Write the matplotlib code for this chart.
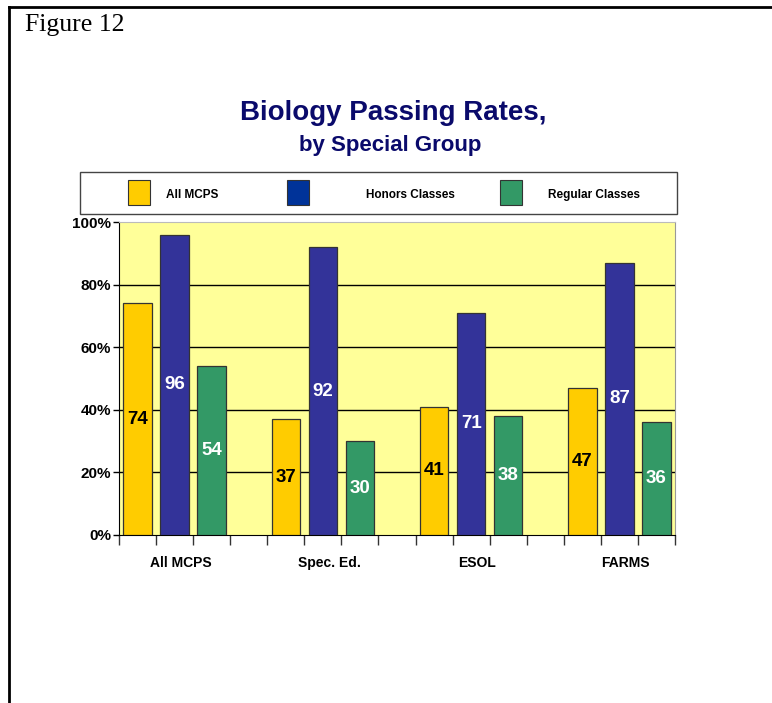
import matplotlib.pyplot as plt
import numpy as np
from matplotlib.patches import Rectangle
from matplotlib.lines import Line2D

# data
groups = ['All MCPS', 'Spec. Ed.', 'ESOL', 'FARMS']
series = ['All MCPS', 'Honors Classes', 'Regular Classes']
all_mcps = [74, 37, 41, 47]
honors = [96, 92, 71, 87]
regular = [54, 30, 38, 36]
yticks = [0, 20, 40, 60, 80, 100]

colors = ['#FFCC00', '#333399', '#339966']
key_colors = ['#FFCC00', '#003399', '#339966']
text_colors = ['black', 'white', 'white']
values = [all_mcps, honors, regular]

plt.rcParams['font.family'] = ['Liberation Sans', 'DejaVu Sans']

fig = plt.figure(figsize=(7.72, 7.03), dpi=100)
fig.patch.set_facecolor('white')

# page frame (top + left only)
fig.add_artist(Line2D([9/772, 1], [1 - 7/703, 1 - 7/703], color='black', lw=2))
fig.add_artist(Line2D([9/772, 9/772], [0, 1 - 7/703], color='black', lw=2))
fig.text(25/772, 1 - 25/703, 'Figure 12', family='Liberation Serif',
         fontsize=18.5, va='center', ha='left')

# titles
fig.text(393/772, 1 - 113/703, 'Biology Passing Rates,', fontsize=20,
         fontweight='bold', color='#0A0A6B', ha='center', va='center')
fig.text(390/772, 1 - 146/703, 'by Special Group', fontsize=16,
         fontweight='bold', color='#0A0A6B', ha='center', va='center')

# axes
ax = fig.add_axes([119/772, 1 - 535/703, 556/772, 313/703])
ax.set_facecolor('#FFFF99')
n_slots = 4 * len(groups) - 1
slot_w = 0.77
for s, (vals, c, tc) in enumerate(zip(values, colors, text_colors)):
    x = np.arange(len(groups)) * 4 + s
    bars = ax.bar(x, vals, width=slot_w, color=c, edgecolor='#333333',
                  linewidth=0.9, zorder=3)
    for b, v in zip(bars, vals):
        ax.text(b.get_x() + b.get_width() / 2, v / 2, f'{v}', ha='center',
                va='center', fontsize=13.5, fontweight='bold', color=tc, zorder=4)

ax.set_xlim(-0.5, n_slots - 0.5)
ax.set_ylim(0, 100)
ax.set_yticks(yticks)
ax.set_yticklabels([f'{t}%' for t in yticks])
for t in yticks[1:-1]:
    ax.axhline(t, color='black', lw=1, zorder=1)

ax.set_xticks(np.arange(len(groups)) * 4 + 1.17)
ax.set_xticklabels(groups)
ax.set_xticks(np.arange(n_slots + 1) - 0.5, minor=True)
ax.tick_params(axis='x', which='major', length=0, pad=15)
ax.tick_params(axis='x', which='minor', length=7, width=1, color='#333333')
ax.tick_params(axis='y', length=4, width=1, pad=1.5)
for lab in ax.get_xticklabels():
    lab.set_fontweight('bold')
    lab.set_fontsize(10)
for lab in ax.get_yticklabels():
    lab.set_fontweight('bold')
    lab.set_fontsize(11)

ax.spines['left'].set_color('black')
ax.spines['bottom'].set_color('black')
ax.spines['top'].set_color('#BBBBBB')
ax.spines['right'].set_color('#999999')

# legend box
fig.add_artist(Rectangle((80/772, 1 - 214/703), 597/772, 42/703,
                         transform=fig.transFigure, facecolor='white',
                         edgecolor='#444444', lw=1))
key_x = [128, 287, 500]
text_x = [166, 366, 548]
for name, kc, kx, tx in zip(series, key_colors, key_x, text_x):
    fig.add_artist(Rectangle((kx/772, 1 - 205/703), 22/772, 25/703,
                             transform=fig.transFigure, facecolor=kc,
                             edgecolor='#333333', lw=0.8))
    fig.text(tx/772, 1 - 195/703, name, fontsize=8.5, fontweight='bold',
             ha='left', va='center')

fig.savefig('out.png', dpi=100)
